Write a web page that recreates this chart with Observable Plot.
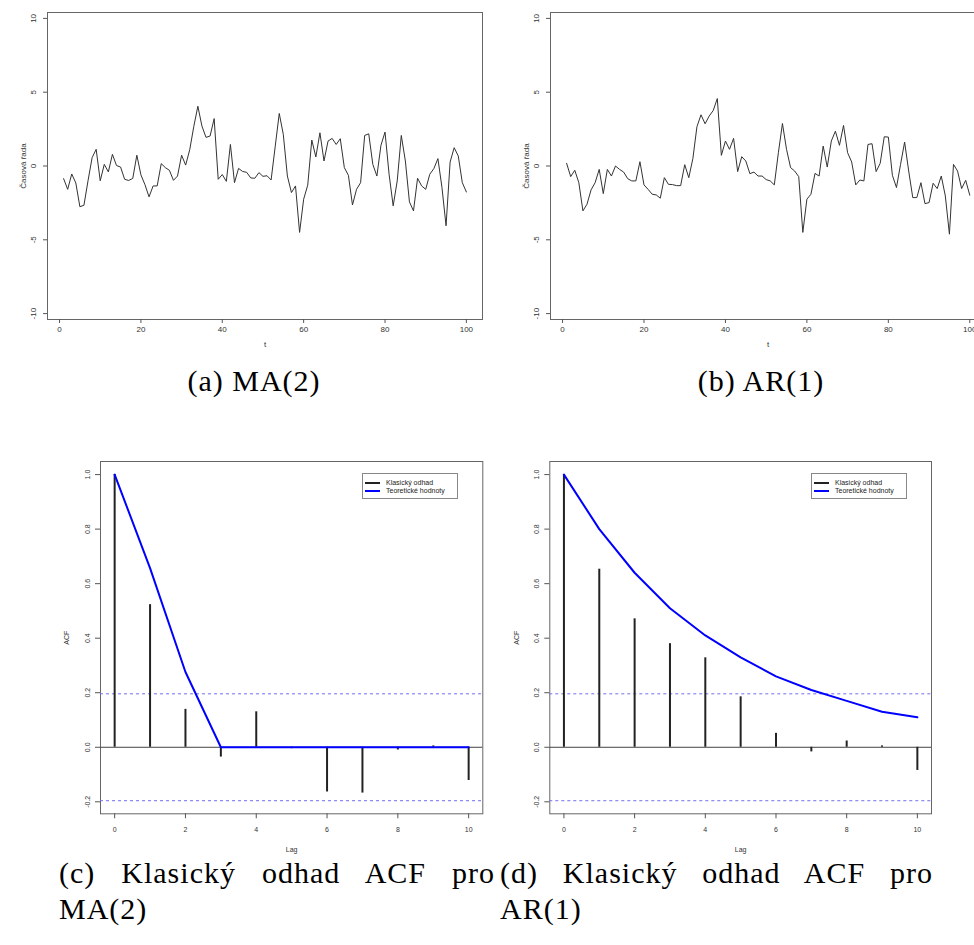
<!DOCTYPE html>
<html><head><meta charset="utf-8">
<script src="https://cdn.jsdelivr.net/npm/d3@7"></script>
<script src="https://cdn.jsdelivr.net/npm/@observablehq/plot@0.6"></script>
<style>
html,body{margin:0;padding:0;background:#fff;overflow:hidden}
#page{position:relative;width:974px;height:945px;overflow:hidden;background:#fff}
.panel{position:absolute}
.panel svg{overflow:visible;max-width:none !important}
.cap{position:absolute;font-family:"Liberation Serif","DejaVu Serif",serif;font-size:30px;letter-spacing:1px;color:#000;line-height:36px;white-space:nowrap}
.just{text-align:justify;text-align-last:justify;white-space:normal}
.legend{position:absolute;border:1px solid #888;background:#fff;font-family:"Liberation Sans",Arial,sans-serif;font-size:7px;color:#222;box-sizing:border-box}
.legend .sw{position:absolute;left:2px;width:15px;height:2px}
.legend .tx{position:absolute;left:23px;line-height:8px;white-space:nowrap}
</style></head>
<body><div id="page">
<div class="panel" id="pa" style="left:0;top:0;width:490px"></div>
<div class="panel" id="pb" style="left:490px;top:0;width:500px"></div>
<div class="panel" id="pc" style="left:0;top:440px;width:490px"></div>
<div class="panel" id="pd" style="left:490px;top:440px;width:490px"></div>
<div class="cap" style="left:104px;top:363px;width:300px;text-align:center">(a) MA(2)</div>
<div class="cap" style="left:611px;top:363px;width:300px;text-align:center">(b) AR(1)</div>
<div class="cap just" style="left:59px;top:855px;width:436px">(c) Klasický odhad ACF pro</div>
<div class="cap" style="left:59px;top:891px">MA(2)</div>
<div class="cap just" style="left:500px;top:855px;width:433px">(d) Klasický odhad ACF pro</div>
<div class="cap" style="left:500px;top:891px">AR(1)</div>
</div>
<script>
// ---- data ----
const maSeries = [-0.86,-1.58,-0.54,-1.15,-2.76,-2.66,-1.0,0.56,1.13,-1.0,
 0.11,-0.4,0.79,0.03,-0.07,-0.9,-0.98,-0.84,0.73,-0.6,
 -1.27,-2.09,-1.35,-1.35,0.16,-0.11,-0.29,-0.97,-0.68,0.73,
 0.06,1.1,2.68,4.05,2.7,1.94,2.03,3.21,-0.9,-0.58,
 -1.04,1.46,-1.13,-0.16,-0.37,-0.43,-0.81,-0.83,-0.45,-0.7,
 -0.66,-0.95,1.3,3.56,2.14,-0.68,-1.8,-1.35,-4.5,-2.25,
 -1.3,1.76,0.61,2.25,0.34,1.69,1.87,1.46,1.85,-0.11,
 -0.63,-2.64,-1.58,-1.13,2.07,2.18,0.11,-0.68,1.4,2.3,
 -0.56,-2.7,-1.01,2.07,0.34,-2.43,-3.04,-0.83,-1.35,-1.58,
 -0.56,-0.18,0.5,-1.46,-4.05,0.27,1.24,0.68,-1.13,-1.76];
const arSeries = [0.18,-0.72,-0.29,-1.13,-3.04,-2.59,-1.62,-1.13,-0.23,-1.87,
 -0.23,-0.68,0.0,-0.23,-0.41,-0.86,-1.01,-1.01,0.29,-1.28,
 -1.58,-1.91,-1.96,-2.18,-0.79,-1.24,-1.26,-1.33,-1.33,0.09,
 -0.79,0.5,2.66,3.47,2.86,3.38,3.76,4.57,0.72,1.69,
 1.13,1.87,-0.38,0.63,0.34,-0.52,-0.41,-0.68,-0.68,-0.92,
 -1.01,-1.28,0.9,2.88,1.13,-0.11,-0.34,-0.72,-4.5,-2.25,
 -1.91,-0.5,-0.68,1.35,-0.07,1.69,2.36,1.4,2.75,0.9,
 0.27,-1.28,-0.95,-1.01,1.46,1.51,-0.38,0.18,1.98,1.96,
 -0.63,-1.46,0.11,1.62,-0.34,-2.14,-2.14,-1.13,-2.55,-2.48,
 -1.17,-1.53,-0.68,-2.03,-4.62,0.11,-0.34,-1.53,-0.97,-1.98];
const lags = [0,1,2,3,4,5,6,7,8,9,10];
const maAcfEst = [1.0,0.523,0.139,-0.036,0.130,-0.005,-0.164,-0.168,-0.010,0.005,-0.122];
const maAcfTheo = [1.0,0.657,0.276,0,0,0,0,0,0,0,0];
const arAcfEst = [1.0,0.653,0.471,0.380,0.328,0.185,0.051,-0.017,0.023,0.005,-0.085];
const arAcfTheo = [1.0,0.80,0.64,0.51,0.41,0.33,0.26,0.21,0.17,0.13,0.11];
const ciBounds = [0.196,-0.196];
const tsXTicks = [0,20,40,60,80,100];
const tsYTicks = [-10,-5,0,5,10];
const acfXTicks = [0,2,4,6,8,10];
const acfYTicks = [-0.2,0.0,0.2,0.4,0.6,0.8,1.0];
const legendLabels = ["Klasický odhad","Teoretické hodnoty"];
const legendColors = ["#222","#0000ff"];

const font = '"Liberation Sans", Arial, sans-serif';

function tsPlot(values, o) {
  return Plot.plot({
    width: o.width, height: 360,
    marginLeft: o.ml, marginRight: o.mr, marginTop: 12, marginBottom: 41,
    style: {fontFamily: font, fontSize: "8px", color: "#333", background: "transparent", overflow: "visible", maxWidth: "none"},
    x: {domain: [-2.96, 103.96]},
    y: {domain: [-10.4, 10.4]},
    marks: [
      Plot.frame({stroke: "#666"}),
      Plot.axisX(tsXTicks, {tickSize: 4, tickPadding: 3, fontSize: 8, stroke: "#555", label: "t", labelAnchor: "center", labelArrow: "none", labelOffset: 27}),
      Plot.axisY(tsYTicks, {tickSize: 4, tickPadding: 8, fontSize: 8, stroke: "#555", tickRotate: -90, textAnchor: "middle", lineAnchor: "bottom", tickFormat: d => String(d), label: "Časová řada", labelAnchor: "center", labelArrow: "none", labelOffset: 27}),
      Plot.line(values, {x: (d, i) => i + 1, y: d => d, stroke: "#333", strokeWidth: 1})
    ]
  });
}

function acfPlot(est, theo, o) {
  const est2 = lags.map((l, i) => ({lag: l, v: est[i]}));
  const theo2 = lags.map((l, i) => ({lag: l, v: theo[i]}));
  return Plot.plot({
    width: o.width, height: 420,
    marginLeft: o.ml, marginRight: o.mr, marginTop: 21, marginBottom: 46.7,
    style: {fontFamily: font, fontSize: "7px", color: "#333", background: "transparent", overflow: "visible", maxWidth: "none"},
    x: {domain: [-0.4, 10.4]},
    y: {domain: [-0.244, 1.048]},
    marks: [
      Plot.frame({stroke: "#666"}),
      Plot.ruleY(ciBounds, {stroke: "#6f6ff0", strokeDasharray: "3,3", strokeWidth: 1}),
      Plot.ruleY([0], {stroke: "#444", strokeWidth: 1}),
      Plot.ruleX(est2, {x: "lag", y1: 0, y2: "v", stroke: "#222", strokeWidth: 2}),
      Plot.line(theo2, {x: "lag", y: "v", stroke: "#0000ff", strokeWidth: 2}),
      Plot.axisX(acfXTicks, {tickSize: 5, tickPadding: 8, fontSize: 7, stroke: "#555", label: "Lag", labelAnchor: "center", labelArrow: "none", labelOffset: 38}),
      Plot.axisY(acfYTicks, {tickSize: 5, tickPadding: 6, fontSize: 7, stroke: "#555", tickRotate: -90, textAnchor: "middle", lineAnchor: "bottom", tickFormat: d => d.toFixed(1), label: "ACF", labelAnchor: "center", labelArrow: "none", labelOffset: 36})
    ]
  });
}

document.getElementById("pa").appendChild(tsPlot(maSeries, {width: 490, ml: 47, mr: 8}));
document.getElementById("pb").appendChild(tsPlot(arSeries, {width: 500, ml: 60, mr: 4.6}));
document.getElementById("pc").appendChild(acfPlot(maAcfEst, maAcfTheo, {width: 490, ml: 100, mr: 7.7}));
document.getElementById("pd").appendChild(acfPlot(arAcfEst, arAcfTheo, {width: 490, ml: 59.3, mr: 49}));

function addLegend(left, top) {
  const page = document.getElementById("page");
  const lg = document.createElement("div");
  lg.className = "legend";
  lg.style.left = left + "px"; lg.style.top = top + "px";
  lg.style.width = "96px"; lg.style.height = "26px";
  legendLabels.forEach((lab, i) => {
    const sw = document.createElement("div");
    sw.className = "sw"; sw.style.top = (7.5 + i * 8.7) + "px"; sw.style.background = legendColors[i];
    const tx = document.createElement("div");
    tx.className = "tx"; tx.style.top = (4.5 + i * 8.7) + "px"; tx.textContent = lab;
    lg.appendChild(sw); lg.appendChild(tx);
  });
  page.appendChild(lg);
}
addLegend(362, 473);
addLegend(811, 473);
</script>
</body></html>
